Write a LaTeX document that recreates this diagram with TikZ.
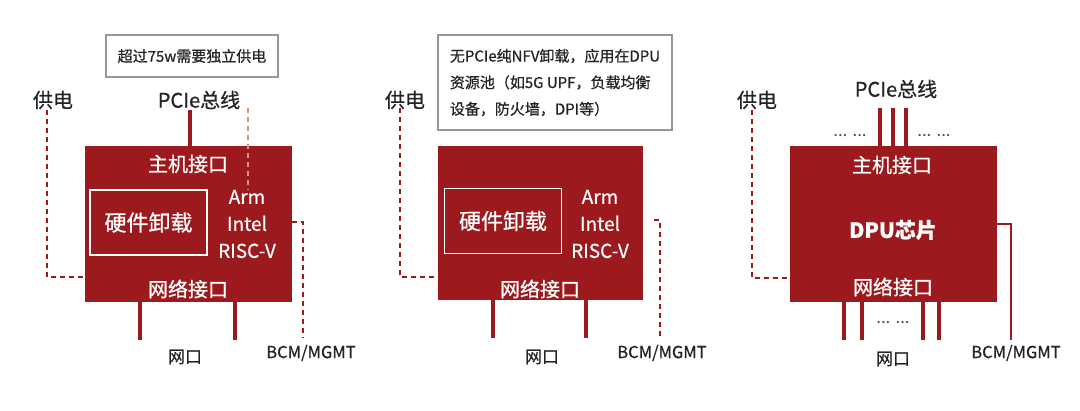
\documentclass[tikz,border=0pt]{standalone}
\usepackage{fontspec}
\setmainfont[FakeBold=0.6]{Noto Sans CJK SC}
\newfontfamily\plainfont{Noto Sans CJK SC}
\definecolor{dred}{RGB}{156,26,30}
\definecolor{txt}{RGB}{35,35,35}
\definecolor{gbox}{RGB}{150,150,150}
\definecolor{orng}{RGB}{215,150,110}
\newcommand{\fs}[2]{\fontsize{#1}{#2}\selectfont}
\begin{document}
\begin{tikzpicture}[x=1pt,y=-1pt,
  chip/.style={fill=dred,draw=none,inner sep=0pt,minimum width=207pt,minimum height=156pt},
  inbox/.style={draw=white,line width=1.3pt,inner sep=0pt,minimum width=117pt,minimum height=65pt,text=white,font=\fs{22}{26}},
  wtxt/.style={text=white,inner sep=0pt,font=\fs{20}{24}},
  cpu/.style={text=white,inner sep=0pt,align=center,font=\fs{19}{27}},
  lbl/.style={text=txt,inner sep=0pt,font=\fs{20}{24}},
  port/.style={text=txt,inner sep=0pt,font=\fs{17}{20}},
  bcm/.style={text=txt,inner sep=0pt,font=\fs{16.5}{18}},
  dots/.style={text=txt!80,inner sep=0pt,font=\plainfont\fs{17}{17}},
  note/.style={draw=gbox,line width=1.4pt,inner sep=0pt,text=txt},
  bus/.style={draw=dred,line width=3.8pt},
  pwr/.style={draw=dred,line width=1.6pt,dash pattern=on 5pt off 4pt},
  orng dash/.style={draw=orng,line width=1.4pt,dash pattern=on 5pt off 4pt},
  mgmt/.style={draw=dred,line width=1.4pt}]
\useasboundingbox (0,0) rectangle (1080,411);
\fill[white] (0,0) rectangle (1080,411);

% ================= left panel =================
\node[chip] (boxL) at (188.5,224) {};
\node[note,minimum width=172pt,minimum height=42pt,font=\fs{15}{18}] (noteL) at (192,56) {超过75w需要独立供电};
\node[lbl] (pwrlblL) at (53,100) {供电};
\node[lbl] (pcielblL) at (199,100) {PCIe总线};
\node[wtxt] (hostL) at (188,164) {主机接口};
\node[inbox] (hwL) at (148.5,222.5) {硬件卸载};
\node[cpu] (cpuL) at (247,224) {Arm\\Intel\\RISC-V};
\node[wtxt] (netL) at (188,289) {网络接口};
\node[port] (portlblL) at (185,357) {网口};
\node[bcm] (bcmlblL) at (311,353) {BCM/MGMT};

\coordinate (pcieL) at (190,110);
\draw[bus] (pcieL) -- (pcieL |- boxL.north);
\coordinate (orgL) at (248,108);
\coordinate (orgLe) at (248,190);
\draw[orng dash] (orgL) -- (orgLe);
\coordinate (pwrL) at (47,110);
\coordinate (pwrLj) at (47,277);
\draw[pwr] (pwrL) -- (pwrLj) -- (pwrLj -| boxL.west);
\coordinate (bcmLa) at (292,222);
\coordinate (bcmLb) at (303,222);
\coordinate (bcmLc) at (303,338);
\draw[pwr] (bcmLa) -- (bcmLb) -- (bcmLc);
\coordinate (nL1) at (140,340);
\coordinate (nL2) at (235,340);
\draw[bus] (nL1) -- (nL1 |- boxL.south);
\draw[bus] (nL2) -- (nL2 |- boxL.south);

% ================= middle panel =================
\node[chip,minimum width=205pt,minimum height=154pt] (boxM) at (540.5,223) {};
\node[note,minimum width=234pt,minimum height=95pt,align=left,font=\fs{15}{26.5}] (noteM) at (555,82.5)
  {无PCIe纯NFV卸载，应用在DPU\\资源池（如5G UPF，负载均衡\\设备，防火墙，DPI等）};
\node[lbl] (pwrlblM) at (405,100) {供电};
\node[inbox] (hwM) at (503,221) {硬件卸载};
\node[cpu] (cpuM) at (600,224) {Arm\\Intel\\RISC-V};
\node[wtxt] (netM) at (540,289) {网络接口};
\node[port] (portlblM) at (542,357) {网口};
\node[bcm] (bcmlblM) at (662,353) {BCM/MGMT};

\coordinate (pwrM) at (400,108);
\coordinate (pwrMj) at (400,277);
\draw[pwr] (pwrM) -- (pwrMj) -- (pwrMj -| boxM.west);
\coordinate (bcmMa) at (654,220);
\coordinate (bcmMb) at (660,220);
\coordinate (bcmMc) at (660,338);
\draw[pwr] (bcmMa) -- (bcmMb) -- (bcmMc);
\coordinate (nM1) at (493,338);
\coordinate (nM2) at (586,338);
\draw[bus] (nM1) -- (nM1 |- boxM.south);
\draw[bus] (nM2) -- (nM2 |- boxM.south);

% ================= right panel =================
\node[chip] (boxR) at (893.5,224) {};
\node[lbl] (pwrlblR) at (757,100) {供电};
\node[lbl] (pcielblR) at (896,89) {PCIe总线};
\node[wtxt] (hostR) at (892,165) {主机接口};
\node[wtxt,font=\fs{21}{24}\bfseries] (dpuR) at (893,230) {DPU芯片};
\node[wtxt] (netR) at (893,287) {网络接口};
\node[port] (portlblR) at (893,359) {网口};
\node[bcm] (bcmlblR) at (1016,353) {BCM/MGMT};
\node[dots] (dotsTL) at (850,136) {... ...};
\node[dots] (dotsTR) at (934,136) {... ...};
\node[dots] (dotsB) at (893,323) {... ...};

\foreach \xx [count=\i] in {880,893,906}{
  \coordinate (pR\i) at (\xx,108);
  \draw[bus] (pR\i) -- (pR\i |- boxR.north);
}
\foreach \xx [count=\i] in {844,862,923,939}{
  \coordinate (nR\i) at (\xx,340);
  \draw[bus] (nR\i) -- (nR\i |- boxR.south);
}
\coordinate (pwrR) at (752,110);
\coordinate (pwrRj) at (752,278);
\draw[pwr] (pwrR) -- (pwrRj) -- (pwrRj -| boxR.west);
\coordinate (bcmRa) at (997,224);
\coordinate (bcmRb) at (1011,224);
\coordinate (bcmRc) at (1011,340);
\draw[mgmt] (bcmRa) -- (bcmRb) -- (bcmRc);
\end{tikzpicture}
\end{document}
